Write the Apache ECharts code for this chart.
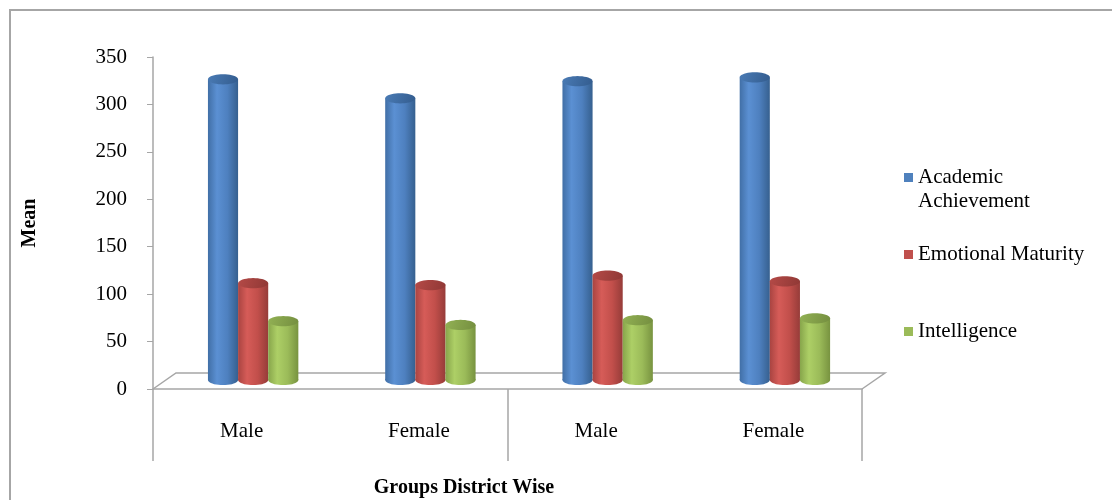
<!DOCTYPE html>
<html>
<head>
<meta charset="utf-8">
<script src="https://cdn.jsdelivr.net/npm/echarts@6/dist/echarts.min.js"></script>
<style>
  html, body { margin: 0; padding: 0; background: #fff; }
  #chart { width: 1112px; height: 500px; }
</style>
</head>
<body>
<div id="chart"></div>
<script>
var categories = ['Male', 'Female', 'Male', 'Female'];
var academic = [317, 297, 315, 319];
var emotional = [102, 100, 110, 104];
var intelligence = [62, 58, 63, 65];
var seriesNames = ['Academic Achievement', 'Emotional Maturity', 'Intelligence'];
var yMin = 0, yMax = 350, yStep = 50;

var serif = 'Liberation Serif, Times New Roman, serif';

// body gradient stops and cap colours per series
var palettes = [
	{ base: '#4F81BD', body: ['#416fa6', '#5b90d3', '#4e80bf', '#36608f'], cap: ['#4a7bb5', '#335c8e'] },
	{ base: '#C0504D', body: ['#a94441', '#d65c58', '#c24f4b', '#963c39'], cap: ['#b54a47', '#8f3835'] },
	{ base: '#9BBB59', body: ['#87a54b', '#adcf66', '#9bbb59', '#789340'], cap: ['#92b154', '#748e3f'] }
];

function ellipsePoints(cx, cy, rx, ry) {
	var pts = [];
	for (var i = 0; i < 40; i++) {
		var a = i / 40 * Math.PI * 2;
		pts.push([cx + rx * Math.cos(a), cy + ry * Math.sin(a)]);
	}
	return pts;
}

function cylinder(k) {
	var p = palettes[k];
	return function (params, api) {
		var idx = api.value(0), val = api.value(1);
		var band = api.size([1, 0])[0];
		var w = band * 0.17, rx = w / 2, ry = w * 0.17;
		var base = api.coord([idx, 0]);
		var top = api.coord([idx, val]);
		var cx = base[0] + band * 0.065 + (k - 1) * w;
		var dy = 9;
		var yb = base[1] - dy, yt = top[1] - dy;
		var body = new echarts.graphic.LinearGradient(0, 0, 1, 0, [
			{ offset: 0, color: p.body[0] },
			{ offset: 0.3, color: p.body[1] },
			{ offset: 0.65, color: p.body[2] },
			{ offset: 1, color: p.body[3] }
		]);
		var cap = new echarts.graphic.LinearGradient(0, 0, 1, 1, [
			{ offset: 0, color: p.cap[0] },
			{ offset: 1, color: p.cap[1] }
		]);
		return {
			type: 'group',
			children: [
				{ type: 'polygon', shape: { points: ellipsePoints(cx, yb, rx, ry) }, style: { fill: body } },
				{ type: 'rect', shape: { x: cx - rx, y: yt, width: w, height: yb - yt }, style: { fill: body } },
				{ type: 'polygon', shape: { points: ellipsePoints(cx, yt, rx, ry) }, style: { fill: cap } }
			]
		};
	};
}

function floorEdges(params, api) {
	var cs = params.coordSys;
	var y0 = cs.y + cs.height;
	var dx = 23, dy = 16;
	return {
		type: 'polyline',
		shape: { points: [[cs.x, y0], [cs.x + dx, y0 - dy], [cs.x + cs.width + dx, y0 - dy], [cs.x + cs.width, y0]] },
		style: { stroke: '#a6a6a6', lineWidth: 1.5, fill: null }
	};
}

function toPairs(arr) {
	return arr.map(function (v, i) { return [i, v]; });
}

var chart = echarts.init(document.getElementById('chart'));

var legendBase = {
	orient: 'vertical',
	icon: 'rect',
	itemWidth: 9,
	itemHeight: 9,
	itemGap: 5,
	selectedMode: false,
	textStyle: { fontFamily: serif, fontSize: 21, color: '#000' }
};

var option = {
	animation: false,
	backgroundColor: '#fff',
	grid: { left: 153, right: 250, top: 57, bottom: 111 },
	legend: [
		Object.assign({}, legendBase, { data: [seriesNames[0]], left: 899, top: 162, formatter: function () { return 'Academic'; } }),
		Object.assign({}, legendBase, { data: [seriesNames[1]], left: 899, top: 239 }),
		Object.assign({}, legendBase, { data: [seriesNames[2]], left: 899, top: 316 })
	],
	graphic: [
		{ type: 'rect', shape: { x: 10, y: 10, width: 1300, height: 700 }, style: { fill: null, stroke: '#a6a6a6', lineWidth: 2 }, silent: true },
		{ type: 'text', x: 918, y: 201, style: { text: 'Achievement', fontFamily: serif, fontSize: 21, fill: '#000', textVerticalAlign: 'middle' } },
		{ type: 'text', x: 464, y: 488, style: { text: 'Groups District Wise', fontFamily: serif, fontSize: 20, fontWeight: 'bold', fill: '#000', textAlign: 'center', textVerticalAlign: 'middle' } }
	],
	xAxis: [
		{
			type: 'category',
			data: categories,
			axisLine: { lineStyle: { color: '#a6a6a6', width: 1.5 } },
			axisTick: { show: false },
			axisLabel: { margin: 32, fontFamily: serif, fontSize: 21, color: '#000' }
		},
		{
			type: 'category',
			data: ['', ''],
			position: 'bottom',
			axisLine: { show: false },
			axisTick: { show: true, length: 72, interval: 0, lineStyle: { color: '#a6a6a6', width: 1.5 } },
			axisLabel: { show: false }
		}
	],
	yAxis: {
		type: 'value',
		min: yMin,
		max: yMax,
		interval: yStep,
		name: 'Mean',
		nameLocation: 'middle',
		nameGap: 113,
		nameTextStyle: { fontFamily: serif, fontSize: 20, fontWeight: 'bold', color: '#000' },
		axisLine: { show: true, lineStyle: { color: '#a6a6a6', width: 1.5 } },
		axisTick: { show: true, length: 6, lineStyle: { color: '#a6a6a6' } },
		splitLine: { show: false },
		axisLabel: { margin: 26, fontFamily: serif, fontSize: 21, color: '#000' }
	},
	series: [
		{ type: 'custom', name: 'floor', renderItem: floorEdges, data: [[0, 0]], z: 1, silent: true, tooltip: { show: false } },
		{ type: 'custom', name: seriesNames[0], renderItem: cylinder(0), data: toPairs(academic), encode: { x: 0, y: 1 }, itemStyle: { color: palettes[0].base }, z: 2 },
		{ type: 'custom', name: seriesNames[1], renderItem: cylinder(1), data: toPairs(emotional), encode: { x: 0, y: 1 }, itemStyle: { color: palettes[1].base }, z: 3 },
		{ type: 'custom', name: seriesNames[2], renderItem: cylinder(2), data: toPairs(intelligence), encode: { x: 0, y: 1 }, itemStyle: { color: palettes[2].base }, z: 4 }
	]
};

chart.setOption(option);
</script>
</body>
</html>
